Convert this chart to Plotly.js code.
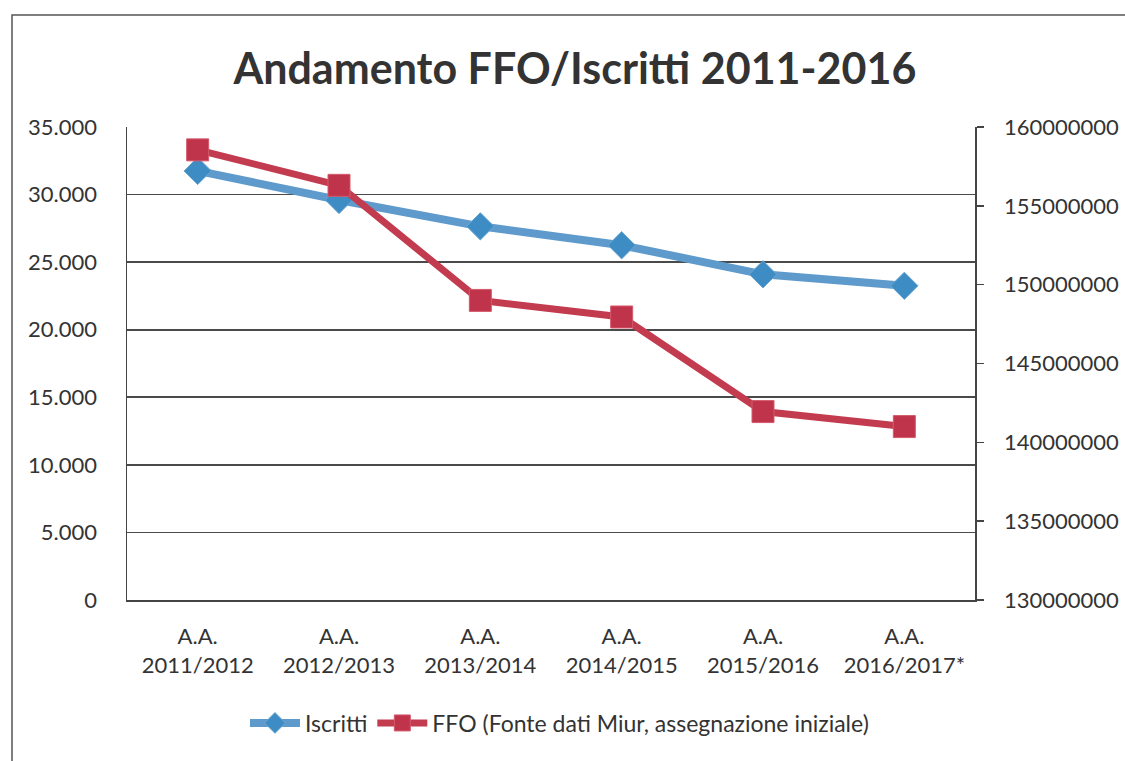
<!DOCTYPE html>
<html>
<head>
<meta charset="utf-8">
<script src="https://cdn.plot.ly/plotly-3.0.1.min.js"></script>
<style>
html,body{margin:0;padding:0;background:#fff;}
#chart{width:1125px;height:761px;}
</style>
</head>
<body>
<div id="chart"></div>
<script>
const categories = ["A.A.<br>2011/2012","A.A.<br>2012/2013","A.A.<br>2013/2014","A.A.<br>2014/2015","A.A.<br>2015/2016","A.A.<br>2016/2017*"];
const iscritti = [31750, 29600, 27650, 26250, 24100, 23250];
const ffo = [158550000, 156300000, 149000000, 147950000, 141950000, 141000000];
const leftTicks = [0, 5000, 10000, 15000, 20000, 25000, 30000, 35000];
const rightTicks = [130000000, 135000000, 140000000, 145000000, 150000000, 155000000, 160000000];

const FONT = "Lato, 'Open Sans', sans-serif";
const TXT = "#333333";

const traces = [
  {
    x: categories, y: iscritti, name: "Iscritti", type: "scatter", mode: "lines+markers",
    line: {color: "#5e9acb", width: 8},
    marker: {symbol: "diamond", size: 21, color: "#3d8cc4", line: {color: "#6aa6d2", width: 1}},
    yaxis: "y", cliponaxis: false
  },
  {
    x: categories, y: ffo, name: "FFO (Fonte dati Miur, assegnazione iniziale)", type: "scatter", mode: "lines+markers",
    line: {color: "#c23b4f", width: 7},
    marker: {symbol: "square", size: 22, color: "#c0344b", line: {color: "#d45a6c", width: 1}},
    yaxis: "y2", cliponaxis: false
  }
];

const layout = {
  width: 1125, height: 761,
  margin: {l: 127, r: 150, t: 127, b: 161},
  paper_bgcolor: "#ffffff", plot_bgcolor: "#ffffff",
  separators: ",.",
  font: {family: FONT, color: TXT, size: 22},
  title: {text: "<b>Andamento FFO/Iscritti 2011-2016</b>", font: {family: FONT, size: 43, color: "#333333"},
          x: 0.511, xanchor: "center", y: 0.91, yanchor: "middle"},
  showlegend: true,
  legend: {orientation: "h", x: 0.51, xanchor: "center", y: -0.26, yanchor: "middle",
           font: {family: FONT, size: 23, color: TXT}, itemwidth: 50, tracegroupgap: 0},
  xaxis: {
    type: "category", range: [-0.5, 5.5], showgrid: false, zeroline: false,
    showline: true, linecolor: "#444", linewidth: 1.5, ticks: "", ticklabelstandoff: 16,
    tickfont: {family: FONT, size: 22, color: TXT}, fixedrange: true
  },
  yaxis: {
    range: [0, 35000], tickvals: leftTicks, tickformat: ",d",
    showgrid: true, gridcolor: "#4a4a4a", gridwidth: 1.8, zeroline: false,
    showline: true, linecolor: "#444", linewidth: 1.5, ticks: "", ticklabelstandoff: 24,
    tickfont: {family: FONT, size: 22, color: TXT}, fixedrange: true
  },
  yaxis2: {
    range: [130000000, 160000000], tickvals: rightTicks, tickformat: "d",
    overlaying: "y", side: "right", showgrid: false, zeroline: false,
    showline: true, linecolor: "#444", linewidth: 1.5, ticks: "outside", ticklen: 7, tickcolor: "#444", tickwidth: 1.5,
    ticklabelstandoff: 16,
    tickfont: {family: FONT, size: 22, color: TXT}, fixedrange: true
  },
  shapes: [
    {type: "rect", xref: "paper", yref: "paper", x0: -0.1356, x1: 1.3, y0: -0.5, y1: 1.2368,
     line: {color: "#555", width: 1.5}, fillcolor: "rgba(0,0,0,0)", layer: "below"}
  ]
};

Plotly.newPlot("chart", traces, layout, {displayModeBar: false, staticPlot: true});
</script>
</body>
</html>
